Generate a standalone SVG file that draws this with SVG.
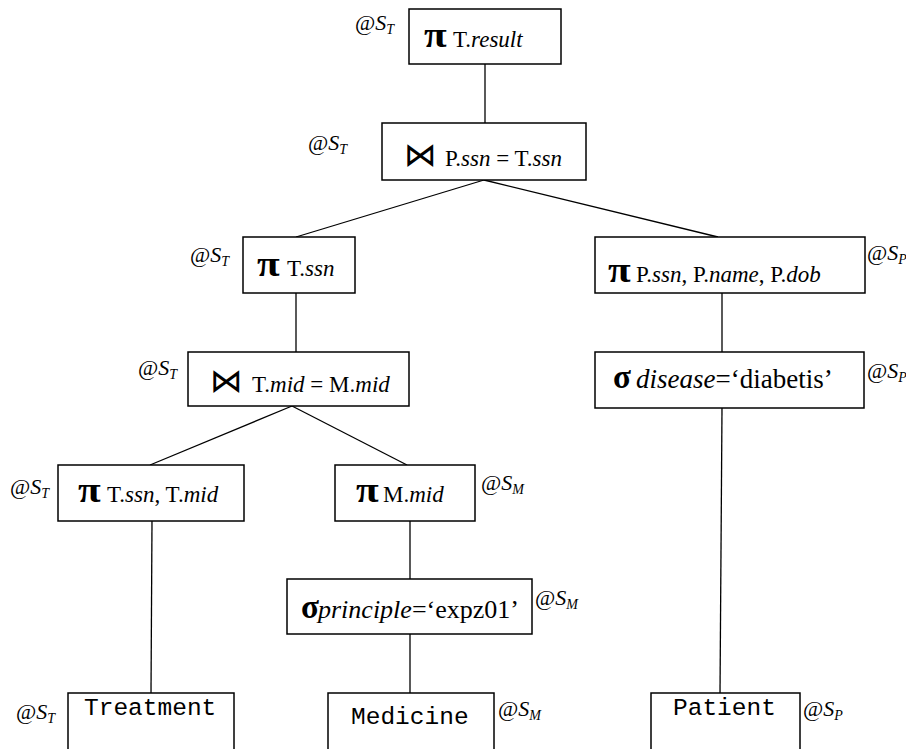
<svg xmlns="http://www.w3.org/2000/svg" width="906" height="749" viewBox="0 0 906 749">
<style>
  .box { fill: #fff; stroke: #000; stroke-width: 1.5; }
  .edge { stroke: #000; stroke-width: 1.3; fill: none; }
  text { font-family: "Liberation Serif", "Times New Roman", serif; fill: #000; }
  .t { font-size: 23px; }
  .tl { font-size: 27px; }
  .tm { font-size: 26px; }
  .i { font-style: italic; }
  .op { font-size: 36px; font-weight: bold; }
  .sg { font-size: 33px; font-weight: bold; }
  .bt { font-family: "DejaVu Sans", sans-serif; font-size: 33px; }
  .mono { font-family: "Liberation Mono", "Courier New", monospace; font-size: 24.5px; }
  .at { font-size: 22px; }
  .sub { font-size: 14px; font-style: italic; }
</style>
<rect width="906" height="749" fill="#fff"/>
<g id="connectors">
  <line class="edge" x1="485" y1="64" x2="485" y2="123"/>
  <line class="edge" x1="484" y1="180" x2="296" y2="237"/>
  <line class="edge" x1="484" y1="180" x2="718" y2="237"/>
  <line class="edge" x1="296" y1="293" x2="296" y2="352"/>
  <line class="edge" x1="722" y1="293" x2="722" y2="352"/>
  <line class="edge" x1="292" y1="406" x2="150" y2="465"/>
  <line class="edge" x1="292" y1="406" x2="407" y2="465"/>
  <line class="edge" x1="152" y1="521" x2="151" y2="693"/>
  <line class="edge" x1="410" y1="521" x2="410" y2="579"/>
  <line class="edge" x1="410" y1="634" x2="410" y2="693"/>
  <line class="edge" x1="722" y1="408" x2="720" y2="693"/>
</g>
<g id="n1">
  <rect class="box" x="409" y="9" width="152" height="55"/>
  <text class="op" transform="translate(424,47) scale(1.15,1)">π</text>
  <text class="t" x="453" y="47">T.<tspan class="i">result</tspan></text>
  <text class="at" x="355" y="30">@<tspan class="i">S</tspan><tspan class="sub" dy="4">T</tspan></text>
</g>
<g id="n2">
  <rect class="box" x="382" y="123" width="204" height="57"/>
  <text class="bt" x="404" y="166">⋈</text>
  <text class="t" x="445" y="166">P.<tspan class="i">ssn</tspan> = T.<tspan class="i">ssn</tspan></text>
  <text class="at" x="308" y="150">@<tspan class="i">S</tspan><tspan class="sub" dy="4">T</tspan></text>
</g>
<g id="n3">
  <rect class="box" x="243" y="237" width="112" height="56"/>
  <text class="op" transform="translate(257,276) scale(1.15,1)">π</text>
  <text class="t" x="287" y="276">T.<tspan class="i">ssn</tspan></text>
  <text class="at" x="190" y="262">@<tspan class="i">S</tspan><tspan class="sub" dy="4">T</tspan></text>
</g>
<g id="n4">
  <rect class="box" x="188" y="352" width="221" height="54"/>
  <text class="bt" x="210" y="392">⋈</text>
  <text class="t" x="252" y="392">T.<tspan class="i">mid</tspan> = M.<tspan class="i">mid</tspan></text>
  <text class="at" x="138" y="375">@<tspan class="i">S</tspan><tspan class="sub" dy="4">T</tspan></text>
</g>
<g id="n5">
  <rect class="box" x="595" y="237" width="270" height="56"/>
  <text class="op" transform="translate(608,282) scale(1.15,1)">π</text>
  <text class="t" x="636" y="282">P.<tspan class="i">ssn</tspan>, P.<tspan class="i">name</tspan>, P.<tspan class="i">dob</tspan></text>
  <text class="at" x="867" y="260">@<tspan class="i">S</tspan><tspan class="sub" dy="4">P</tspan></text>
</g>
<g id="n6">
  <rect class="box" x="595" y="352" width="269" height="56"/>
  <text class="sg" x="613" y="388">σ</text>
  <text class="tl" x="636" y="388"><tspan class="i">disease</tspan>=‘diabetis’</text>
  <text class="at" x="867" y="378">@<tspan class="i">S</tspan><tspan class="sub" dy="4">P</tspan></text>
</g>
<g id="n7">
  <rect class="box" x="58" y="465" width="186" height="56"/>
  <text class="op" transform="translate(78,502) scale(1.15,1)">π</text>
  <text class="t" x="107" y="502">T.<tspan class="i">ssn</tspan>, T.<tspan class="i">mid</tspan></text>
  <text class="at" x="10" y="494">@<tspan class="i">S</tspan><tspan class="sub" dy="4">T</tspan></text>
</g>
<g id="n8">
  <rect class="box" x="335" y="465" width="140" height="56"/>
  <text class="op" transform="translate(356,502) scale(1.15,1)">π</text>
  <text class="t" x="383" y="502" font-size="24">M.<tspan class="i">mid</tspan></text>
  <text class="at" x="481" y="490">@<tspan class="i">S</tspan><tspan class="sub" dy="4">M</tspan></text>
</g>
<g id="n9">
  <rect class="box" x="287" y="579" width="245" height="55"/>
  <text class="sg" x="301" y="618">σ</text>
  <text class="tm" x="318" y="618"><tspan class="i">principle</tspan>=‘expz01’</text>
  <text class="at" x="535" y="605">@<tspan class="i">S</tspan><tspan class="sub" dy="4">M</tspan></text>
</g>
<g id="n10">
  <rect class="box" x="68" y="693" width="166" height="58"/>
  <text class="mono" x="84" y="715">Treatment</text>
  <text class="at" x="16" y="719">@<tspan class="i">S</tspan><tspan class="sub" dy="4">T</tspan></text>
</g>
<g id="n11">
  <rect class="box" x="328" y="693" width="166" height="58"/>
  <text class="mono" x="351" y="724">Medicine</text>
  <text class="at" x="498" y="716">@<tspan class="i">S</tspan><tspan class="sub" dy="4">M</tspan></text>
</g>
<g id="n12">
  <rect class="box" x="651" y="693" width="149" height="58"/>
  <text class="mono" x="673" y="715">Patient</text>
  <text class="at" x="803" y="716">@<tspan class="i">S</tspan><tspan class="sub" dy="4">P</tspan></text>
</g>
</svg>
